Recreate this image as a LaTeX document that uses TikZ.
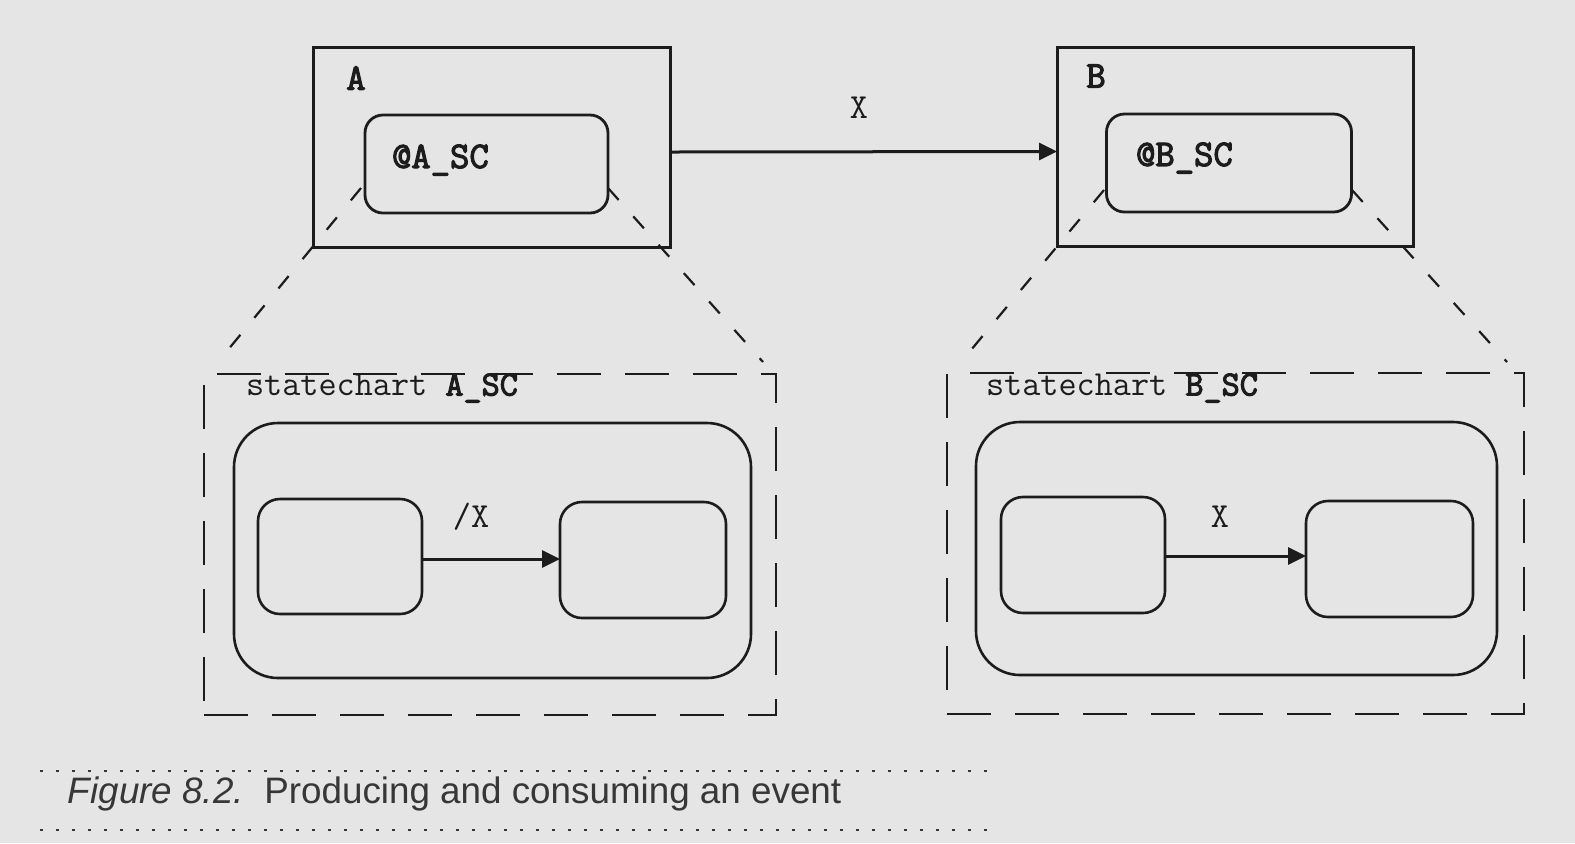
\documentclass[tikz,border=0pt]{standalone}
\usepackage{fontspec}
\setmainfont{Liberation Serif}
\setsansfont{Liberation Sans}
\newfontfamily\heavytt[FakeBold=3]{Latin Modern Mono}
\usetikzlibrary{arrows.meta}
\definecolor{bgc}{RGB}{229,229,229}
\definecolor{ink}{RGB}{28,28,28}
\definecolor{capink}{RGB}{55,55,55}
\begin{document}
\begin{tikzpicture}[x=0.5pt,y=-0.5pt,
  every node/.style={inner sep=0pt, outer sep=0pt},
  objbox/.style={draw=ink, line width=1.5pt, rectangle},
  scref/.style={draw=ink, line width=1.4pt, rounded corners=9pt},
  scframe/.style={draw=ink, line width=1.4pt, dash pattern=on 22pt off 12pt},
  outerst/.style={draw=ink, line width=1.3pt, rounded corners=22pt},
  innerst/.style={draw=ink, line width=1.3pt, rounded corners=11pt},
  zoomline/.style={draw=ink, line width=1.1pt, dash pattern=on 8pt off 11pt},
  arr/.style={draw=ink, line width=1.5pt, -{Triangle[length=9pt,width=8.5pt]}},
  monolbl/.style={font=\ttfamily\fontsize{17.6}{20}\selectfont, text=ink},
  boldlbl/.style={font=\heavytt\fontsize{18.8}{21}\selectfont, text=ink},
  dotline/.style={draw=capink, line width=0.8pt, dash pattern=on 1.5pt off 6.5pt}
]
\fill[bgc] (0,0) rectangle (1575,843);
\useasboundingbox (0,0) rectangle (1575,843);

% ---- object A ----
\node[objbox, minimum width=178.5pt, minimum height=100pt] (boxA) at (492,147) {};
\node[scref, minimum width=121.5pt, minimum height=49pt] (refA) at (486.5,164) {};
\node[boldlbl] (labA) at (356,78) {A};
\node[boldlbl, anchor=west] (refAtxt) at (392,160) {@A\_SC};

% ---- object B ----
\node[objbox, minimum width=178pt, minimum height=99.5pt] (boxB) at (1235,146.5) {};
\node[scref, minimum width=122.5pt, minimum height=49pt] (refB) at (1229,163) {};
\node[boldlbl] (labB) at (1096,76) {B};
\node[boldlbl, anchor=west] (refBtxt) at (1136,158) {@B\_SC};

% ---- event arrow between objects ----
\draw[arr] ([yshift=-2.5pt]boxA.east) -- ([yshift=-2.5pt]boxB.west);
\node[monolbl] (evX) at (859,108) {X};

% ---- statechart A_SC ----
\node[scframe, minimum width=286pt, minimum height=170.5pt] (frameA) at (490,544.5) {};
\node[monolbl, anchor=west] (titleA) at (246,388) {statechart {\heavytt A\_SC}};
\node[outerst, minimum width=258.5pt, minimum height=127.5pt] (outA) at (492.5,550.5) {};
\node[innerst, minimum width=82pt, minimum height=57.5pt] (sA1) at (340,556.5) {};
\node[innerst, minimum width=83pt, minimum height=58pt] (sA2) at (643,560) {};
\draw[arr] (sA1.east |- 0,559) coordinate (a1) -- (sA2.west |- a1);
\node[monolbl] (lblA) at (471,517) {/X};

% ---- statechart B_SC ----
\node[scframe, minimum width=288.5pt, minimum height=170.5pt] (frameB) at (1235.5,543.5) {};
\node[monolbl, anchor=west] (titleB) at (986,388) {statechart {\heavytt B\_SC}};
\node[outerst, minimum width=260.5pt, minimum height=126.5pt] (outB) at (1236.5,548.5) {};
\node[innerst, minimum width=82pt, minimum height=58pt] (sB1) at (1083,555) {};
\node[innerst, minimum width=83.5pt, minimum height=58pt] (sB2) at (1389.5,559) {};
\draw[arr] (sB1.east |- 0,556) coordinate (b1) -- (sB2.west |- b1);
\node[monolbl] (lblB) at (1220,517) {X};

% ---- zoom lines ----
\coordinate (zA1) at (361,188);
\coordinate (zA2) at (608,188);
\coordinate (zB1) at (1104,190);
\coordinate (zB2) at (1352,190);
\coordinate (eA1) at (218,362);
\coordinate (eA2) at (763,362);
\coordinate (eB1) at (961,362);
\coordinate (eB2) at (1507,362);
\draw[zoomline] (zA1) -- (eA1);
\draw[zoomline] (zA2) -- (eA2);
\draw[zoomline] (zB1) -- (eB1);
\draw[zoomline] (zB2) -- (eB2);

% ---- caption ----
\coordinate (c1) at (40,771);
\coordinate (c2) at (989,771);
\coordinate (c3) at (40,830);
\coordinate (c4) at (989,830);
\draw[dotline] (c1) -- (c2);
\draw[dotline] (c3) -- (c4);
\node[anchor=west, text=capink, font=\sffamily\fontsize{18.4}{21}\selectfont] (cap) at (68,794)
  {\textit{Figure 8.2.}\ \ Producing and consuming an event};
\end{tikzpicture}
\end{document}
